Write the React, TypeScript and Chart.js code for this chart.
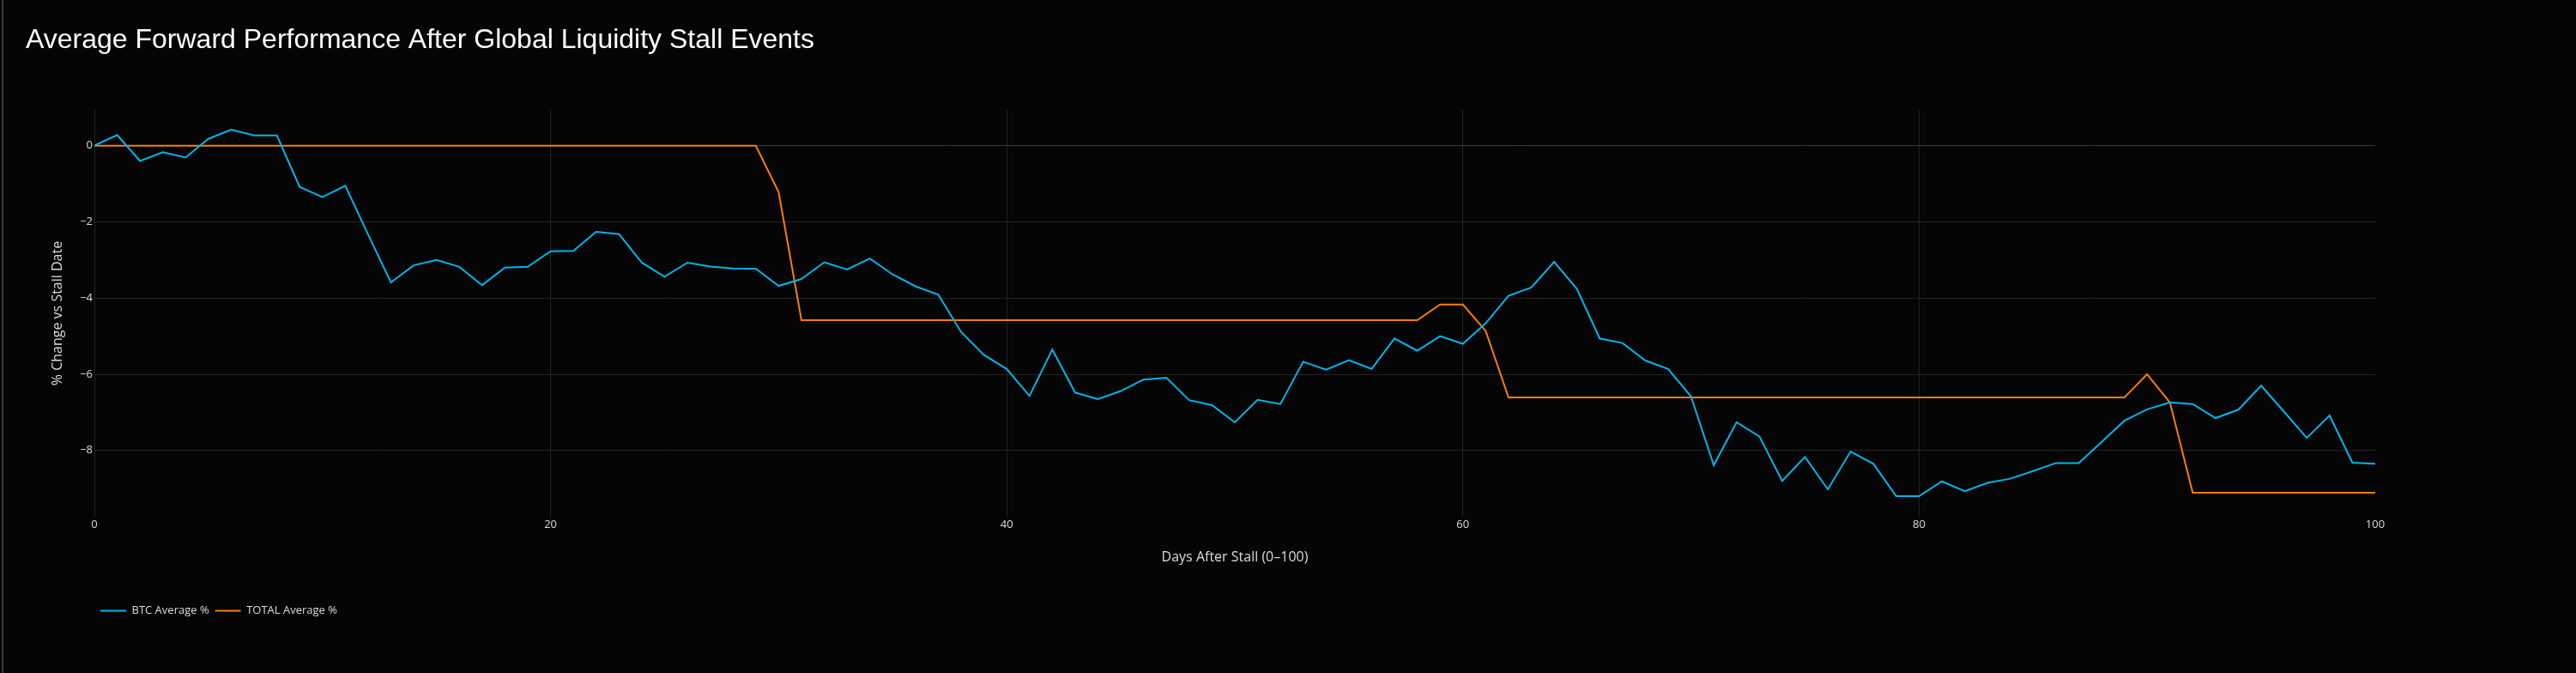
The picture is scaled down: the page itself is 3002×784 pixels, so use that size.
import { useEffect, useRef } from "react";
import { Chart, registerables } from "chart.js";

Chart.register(...registerables);

const days = [
  0, 1, 2, 3, 4, 5, 6, 7, 8, 9, 10, 11, 12, 13, 14, 15, 16, 17, 18, 19,
  20, 21, 22, 23, 24, 25, 26, 27, 28, 29, 30, 31, 32, 33, 34, 35, 36, 37, 38, 39,
  40, 41, 42, 43, 44, 45, 46, 47, 48, 49, 50, 51, 52, 53, 54, 55, 56, 57, 58, 59,
  60, 61, 62, 63, 64, 65, 66, 67, 68, 69, 70, 71, 72, 73, 74, 75, 76, 77, 78, 79,
  80, 81, 82, 83, 84, 85, 86, 87, 88, 89, 90, 91, 92, 93, 94, 95, 96, 97, 98, 99,
  100,
];

const btcAvg = [
  0, 0.28, -0.4, -0.17, -0.31, 0.18, 0.42, 0.27, 0.27, -1.08,
  -1.35, -1.05, -2.33, -3.59, -3.14, -3.0, -3.18, -3.66, -3.2, -3.18,
  -2.77, -2.76, -2.26, -2.32, -3.07, -3.44, -3.07, -3.17, -3.22, -3.23,
  -3.68, -3.5, -3.06, -3.25, -2.96, -3.38, -3.69, -3.91, -4.89, -5.49,
  -5.86, -6.57, -5.35, -6.48, -6.65, -6.44, -6.14, -6.09, -6.68, -6.81,
  -7.26, -6.67, -6.78, -5.67, -5.88, -5.63, -5.86, -5.06, -5.38, -5.0,
  -5.2, -4.66, -3.94, -3.72, -3.05, -3.76, -5.06, -5.18, -5.64, -5.86,
  -6.58, -8.39, -7.26, -7.63, -8.8, -8.17, -9.02, -8.03, -8.35, -9.2,
  -9.2, -8.81, -9.07, -8.85, -8.74, -8.54, -8.33, -8.33, -7.78, -7.22,
  -6.92, -6.74, -6.78, -7.15, -6.93, -6.3, -6.98, -7.67, -7.08, -8.32,
  -8.35,
];

const totalAvg = [
  0, 0, 0, 0, 0, 0, 0, 0, 0, 0,
  0, 0, 0, 0, 0, 0, 0, 0, 0, 0,
  0, 0, 0, 0, 0, 0, 0, 0, 0, 0,
  -1.22, -4.58, -4.58, -4.58, -4.58, -4.58, -4.58, -4.58, -4.58, -4.58,
  -4.58, -4.58, -4.58, -4.58, -4.58, -4.58, -4.58, -4.58, -4.58, -4.58,
  -4.58, -4.58, -4.58, -4.58, -4.58, -4.58, -4.58, -4.58, -4.58, -4.17,
  -4.17, -4.86, -6.61, -6.61, -6.61, -6.61, -6.61, -6.61, -6.61, -6.61,
  -6.61, -6.61, -6.61, -6.61, -6.61, -6.61, -6.61, -6.61, -6.61, -6.61,
  -6.61, -6.61, -6.61, -6.61, -6.61, -6.61, -6.61, -6.61, -6.61, -6.61,
  -6.0, -6.74, -9.11, -9.11, -9.11, -9.11, -9.11, -9.11, -9.11, -9.11,
  -9.11,
];

const seriesNames = ["BTC Average %", "TOTAL Average %"];
const xTickStep = 20;
const yTickStep = 2;

const BG = "#050505";
const GRID = "#242424";
const ZERO = "#3a3a3a";
const TEXT = "#dcdcdc";
const SANS = "'Open Sans', sans-serif";

const App = () => {
  const canvasRef = useRef<HTMLCanvasElement | null>(null);
  const chartRef = useRef<Chart | null>(null);

  useEffect(() => {
    if (!canvasRef.current) return;
    if (chartRef.current) chartRef.current.destroy();

    chartRef.current = new Chart(canvasRef.current, {
      type: "line",
      data: {
        datasets: [
          {
            label: seriesNames[0],
            data: days.map((d, i) => ({ x: d, y: btcAvg[i] })),
            borderColor: "#00b4eb",
            backgroundColor: "#00b4eb",
            borderWidth: 2,
            pointRadius: 0,
            tension: 0,
          },
          {
            label: seriesNames[1],
            data: days.map((d, i) => ({ x: d, y: totalAvg[i] })),
            borderColor: "#f97d0a",
            backgroundColor: "#f97d0a",
            borderWidth: 2,
            pointRadius: 0,
            tension: 0,
          },
        ],
      },
      options: {
        animation: false,
        responsive: true,
        maintainAspectRatio: false,
        layout: { padding: { left: 30, right: 234, top: 0, bottom: 56 } },
        plugins: {
          title: {
            display: true,
            text: "Average Forward Performance After Global Liquidity Stall Events",
            align: "start",
            color: "#ffffff",
            font: { family: "'Liberation Sans', Arial, sans-serif", size: 32, weight: "normal" },
            padding: { top: 27.5, bottom: 62.1 },
          },
          legend: {
            position: "bottom",
            align: "start",
            fullSize: false,
            labels: {
              usePointStyle: true,
              pointStyle: "line",
              pointStyleWidth: 30,
              padding: 7,
              color: TEXT,
              font: { family: SANS, size: 13 },
            },
          },
          tooltip: { enabled: false },
        },
        scales: {
          x: {
            type: "linear",
            min: 0,
            max: 100,
            afterFit: (s) => {
              s.height = 96;
            },
            ticks: {
              stepSize: xTickStep,
              padding: 1,
              maxRotation: 0,
              color: TEXT,
              font: { family: SANS, size: 13 },
            },
            grid: {
              drawTicks: false,
              color: (c) => (c.tick && c.tick.value === 100 ? "rgba(0,0,0,0)" : GRID),
            },
            border: { display: false },
            title: {
              display: true,
              text: "Days After Stall (0–100)",
              color: TEXT,
              font: { family: SANS, size: 16 },
              padding: { top: 0, bottom: 39 },
            },
          },
          y: {
            min: -9.74,
            max: 0.94,
            afterFit: (s) => {
              s.width = 80;
            },
            ticks: {
              stepSize: yTickStep,
              includeBounds: false,
              padding: 2,
              color: TEXT,
              font: { family: SANS, size: 13 },
              callback: (v) => {
                const n = Number(v);
                return n < 0 ? "\u2212" + Math.abs(n) : String(n);
              },
            },
            grid: {
              drawTicks: false,
              color: (c) => (c.tick && c.tick.value === 0 ? ZERO : GRID),
            },
            border: { display: false },
            title: {
              display: true,
              text: "% Change vs Stall Date",
              color: TEXT,
              font: { family: SANS, size: 16 },
              padding: { top: 27.4, bottom: 0 },
            },
          },
        },
      },
    });

    return () => {
      if (chartRef.current) {
        chartRef.current.destroy();
        chartRef.current = null;
      }
    };
  }, []);

  return (
    <div
      style={{
        position: "fixed",
        left: 0,
        top: 0,
        width: 3002,
        height: 784,
        background: BG,
        overflow: "hidden",
      }}
    >
      <div
        style={{
          position: "absolute",
          left: 2,
          top: 0,
          width: 2,
          height: 784,
          background: "#3a3a3a",
        }}
      />
      <div style={{ position: "absolute", left: 0, top: 0, width: 3002, height: 784 }}>
        <canvas ref={canvasRef} />
      </div>
    </div>
  );
};

export default App;
